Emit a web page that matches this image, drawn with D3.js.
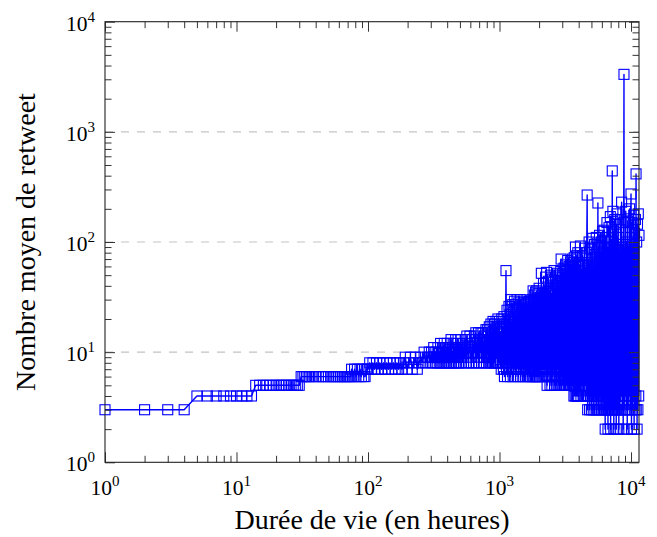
<!DOCTYPE html>
<html><head><meta charset="utf-8">
<script src="https://cdn.jsdelivr.net/npm/d3@7"></script>
<style>body{margin:0;background:#fff}svg{display:block}</style>
</head><body>
<svg id="c" width="657" height="537"></svg>
<script>
// Data: [lifetime in hours, mean retweet count]
const ptsShort = [[1,3],[2,3],[3,3],[4,3],[5,4],[6,4],[7,4],[8,4],[9,4],[10,4],[11,4],[12,4],[13,4],
 [14,5],[15,5],[16,5],[17,5],[18,5],[19,5],[20,5],[21,5],[22,5],[23,5],[24,5],[25,5],[26,5],[27,5],[28,5],[29,5],[30,5]];
const ptsDay = [[31,6],[32,6],[33,6],[34,6],[35,6],[36,6],[38,6],[40,6],[42,6],[44,6],[46,6],[48,6],[50,6],[52,6],
 [54,6],[56,6],[58,6],[60,6],[62,6],[64,6],[66,6],[68,6],[70,6],[72,6],[74,6],[75,7],[77,6],[79,7],[81,6],[83,7],
 [85,6],[87,7],[89,6],[91,7],[93,6],[95,6],[97,7],[99,7]];
const ptsWeek = [[100,7],[103,8],[106,7],[109,8],[112,7],[116,8],[119,7],[123,8],[127,7],[131,8],[135,7],[139,8],
 [143,7],[147,8],[152,7],[156,8],[161,7],[166,8],[171,7],[176,8],[181,7],[187,8],[192,9],[198,7],[204,8],[210,9],
 [217,7],[223,8],[230,9],[237,7],[244,8],[252,9],[259,8],[267,10],[275,8],[283,9],[292,10]];
const ptsMonth = [
 [300,8],[304,10],[308,9],[312,8],[316,11],[320,9],[324,8],[328,10],[332,9],[336,8],
 [340,11],[344,9],[348,8],[352,10],[356,12],[360,8],[364,9],[368,11],[372,8],[376,10],
 [380,12],[384,8],[388,9],[392,11],[396,8],[400,12],[404,9],[408,8],[412,11],[416,10],
 [420,8],[424,12],[428,13],[432,8],[436,10],[440,9],[444,12],[448,8],[452,11],[456,9],
 [460,8],[464,13],[468,10],[472,8],[476,12],[480,9],[484,13],[488,8],[492,11],[496,10],
 [500,8],[508,13],[516,9],[524,12],[532,8],[540,11],[548,13],[556,8],[564,14],[572,10],
 [580,8],[588,12],[596,14],[604,9],[612,8],[620,13],[628,11],[636,8],[644,14],[652,10],
 [660,15],[668,8],[676,12],[684,9],[692,15],[700,8],[708,13],[716,10],[724,15],[732,8],
 [740,12],[748,15],[756,9],[764,8],[772,14],[780,11],[788,16],[796,8],[804,13],[812,16],
 [820,9],[828,8],[836,17],[844,12],[852,8],[860,18],[868,10],[876,15],[884,8],[892,19],
 [900,11],[908,8],[916,18],[924,13],[932,8],[940,19],[948,10],[956,17],[964,8],[972,20],
 [980,12],[988,8]];
const ptsQuarter = [
 [1000,19],[1010,8],[1020,15],[1030,7],[1040,20],[1050,8],[1060,17],[1070,7],[1080,21],[1090,6],
 [1100,18],[1110,8],[1120,55],[1130,7],[1140,24],[1150,6],[1160,20],[1170,7],[1180,26],[1190,8],
 [1200,22],[1210,6],[1220,30],[1230,7],[1240,19],[1250,8],[1260,27],[1270,6],[1280,23],[1290,7],
 [1300,29],[1310,8],[1320,21],[1330,6],[1340,25],[1350,7],[1360,30],[1370,8],[1380,20],[1390,6],
 [1400,28],[1410,7],[1420,24],[1430,8],[1440,30],[1450,6],[1460,22],[1470,7],[1480,27],[1490,8],
 [1500,25],[1510,6],[1520,29],[1530,7],[1540,21],[1550,8],[1560,28],[1570,6],[1580,24],[1590,7],
 [1600,27],[1610,8],[1620,22],[1630,6],[1640,28],[1650,7],[1660,25],[1670,8],[1680,29],[1690,6],
 [1700,23],[1710,7],[1720,28],[1730,6],[1740,26],[1750,8],[1760,30],[1770,7],[1780,24],[1790,6],
 [1800,36],[1810,7],[1820,27],[1830,6],[1840,33],[1850,8],[1860,29],[1870,6],[1880,35],[1890,7],
 [1900,28],[1910,6],[1920,36],[1930,7],[1940,31],[1950,6],[1960,34],[1970,8],[1980,30],[1990,6]];
const ptsHalfYear = [
 [2000,38],[2020,6],[2040,30],[2060,7],[2080,52],[2100,6],[2120,34],[2140,7],[2160,42],[2180,6],
 [2200,32],[2220,7],[2240,48],[2260,6],[2280,53],[2300,5],[2320,35],[2340,6],[2360,44],[2380,7],
 [2400,36],[2420,5],[2440,50],[2460,6],[2480,34],[2500,5],[2520,46],[2540,6],[2560,38],[2580,7],
 [2600,55],[2620,5],[2640,36],[2660,6],[2680,48],[2700,5],[2720,40],[2740,6],[2760,52],[2780,7],
 [2800,42],[2820,5],[2840,50],[2860,6],[2880,38],[2900,5],[2920,54],[2940,70],[2960,6],[2980,44],
 [3000,5],[3020,52],[3040,6],[3060,40],[3080,5],[3100,58],[3120,6],[3140,45],[3160,5],[3180,62],
 [3200,6],[3220,44],[3240,5],[3260,56],[3280,6],[3300,68],[3320,5],[3340,48],[3360,6],[3380,60],
 [3400,5],[3420,46],[3440,6],[3460,66],[3480,5],[3500,50],[3520,6],[3540,63],[3560,5],[3580,70],
 [3600,6],[3620,50],[3640,5],[3660,65],[3680,4],[3700,72],[3720,5],[3740,52],[3760,4],[3780,90],
 [3800,5],[3820,56],[3840,4],[3860,75],[3880,5],[3900,60],[3920,4],[3940,80],[3960,5],[3980,62]];
const ptsYear = [
 [4000,4],[4040,60],[4080,5],[4120,92],[4160,4],[4200,55],[4240,5],[4280,75],[4320,4],[4360,62],
 [4400,4],[4440,88],[4480,5],[4520,58],[4560,4],[4600,80],[4640,267],[4680,3],[4720,65],[4760,4],
 [4800,100],[4840,3],[4880,62],[4920,4],[4960,85],[5000,3],[5040,70],[5080,4],[5120,108],[5160,3],
 [5200,60],[5240,4],[5280,95],[5320,3],[5360,72],[5400,4],[5440,110],[5480,3],[5520,66],[5560,4],
 [5600,226],[5640,3],[5680,90],[5720,4],[5760,115],[5800,3],[5840,70],[5880,4],[5920,100],[5960,3],
 [6000,78],[6040,4],[6080,125],[6120,3],[6160,72],[6200,4],[6240,128],[6280,3],[6320,88],[6360,2],
 [6400,110],[6440,3],[6480,75],[6520,4],[6560,150],[6600,3],[6640,90],[6680,2],[6720,70],[6760,3],
 [6800,135],[6840,4],[6880,85],[6920,3],[6960,170],[7000,2],[7040,100],[7080,3],[7120,78],[7160,4],
 [7200,442],[7240,3],[7280,190],[7320,4],[7360,125],[7400,2],[7440,90],[7480,3],[7520,160],[7560,4],
 [7600,80],[7640,3],[7680,145],[7720,2],[7760,95],[7800,3],[7840,180],[7880,4],[7920,85],[7960,3]];
const ptsLong = [
 [8000,110],[8080,2],[8160,80],[8240,3],[8320,160],[8400,4],[8480,230],[8560,3],[8640,95],[8720,2],
 [8800,150],[8840,3326],[8880,3],[8960,85],[9040,4],[9120,190],[9200,3],[9280,100],[9360,2],[9440,155],
 [9520,3],[9600,90],[9680,4],[9760,200],[9840,3],[9920,110],[10000,273],[10080,2],[10160,150],[10240,3],
 [10320,95],[10400,4],[10480,175],[10560,2],[10640,120],[10720,3],[10800,160],[10880,4],[10920,415],[10960,3],
 [11040,100],[11120,2],[11200,145],[11280,3],[11360,180],[11440,4],[11500,115]];

const xDomain = [1, 11500];
const yDomain = [1, 10000];
const xMajorTicks = [1, 10, 100, 1000, 10000];
const yMajorTicks = [1, 10, 100, 1000, 10000];
const gridTicks = [10, 100, 1000];
const xTitle = "Durée de vie (en heures)";
const yTitle = "Nombre moyen de retweet";

const data = [].concat(ptsShort, ptsDay, ptsWeek, ptsMonth, ptsQuarter, ptsHalfYear, ptsYear, ptsLong);

const L = 105, R = 639, T = 21.7, B = 462.3;
const x = d3.scaleLog().domain(xDomain).range([L, R]);
const y = d3.scaleLog().domain(yDomain).range([B, T]);
const svg = d3.select('#c');
const FONT = '"Liberation Serif","Times New Roman",serif';

function minors(dom) {
  const out = [];
  for (let k = 0; k < 5; k++) for (let m = 2; m <= 9; m++) {
    const v = m * Math.pow(10, k);
    if (v >= dom[0] && v <= dom[1]) out.push(v);
  }
  return out;
}
const xMinor = minors(xDomain), yMinor = minors(yDomain);

// grid
svg.append('g').selectAll('line').data(gridTicks).join('line')
  .attr('x1', L).attr('x2', R).attr('y1', d => y(d)).attr('y2', d => y(d))
  .attr('stroke', '#c4c4c4').attr('stroke-width', 1.1).attr('stroke-dasharray', '8,8');

// data
const line = d3.line().x(d => x(d[0])).y(d => y(d[1]));
svg.append('path').datum(data).attr('d', line)
  .attr('fill', 'none').attr('stroke', '#0000ff').attr('stroke-width', 1.4).attr('stroke-linejoin', 'round');
const S = 10;
svg.append('g').selectAll('rect').data(data).join('rect')
  .attr('x', d => x(d[0]) - S / 2).attr('y', d => y(d[1]) - S / 2)
  .attr('width', S).attr('height', S)
  .attr('fill', 'none').attr('stroke', '#0000ff').attr('stroke-width', 1.1);

// axes (ticks inward on all four sides)
function styleAxis(g) {
  g.select('.domain').remove();
  g.selectAll('.tick line').attr('stroke', '#333').attr('stroke-width', 1);
  g.selectAll('.tick text').remove();
}
const MAJ = 10, MIN = 6.5;
[[d3.axisBottom, B], [d3.axisTop, T]].forEach(([ax, pos]) => {
  svg.append('g').attr('transform', `translate(0,${pos})`)
    .call(ax(x).tickValues(xMajorTicks).tickSize(-MAJ)).call(styleAxis);
  svg.append('g').attr('transform', `translate(0,${pos})`)
    .call(ax(x).tickValues(xMinor).tickSize(-MIN)).call(styleAxis);
});
[[d3.axisLeft, L], [d3.axisRight, R]].forEach(([ax, pos]) => {
  svg.append('g').attr('transform', `translate(${pos},0)`)
    .call(ax(y).tickValues(yMajorTicks).tickSize(-MAJ)).call(styleAxis);
  svg.append('g').attr('transform', `translate(${pos},0)`)
    .call(ax(y).tickValues(yMinor).tickSize(-MIN)).call(styleAxis);
});
svg.append('rect').attr('x', L).attr('y', T).attr('width', R - L).attr('height', B - T)
  .attr('fill', 'none').attr('stroke', '#222').attr('stroke-width', 1.1);

// tick labels with superscript exponents
const TF = 21.5;
function powLabel(sel, v) {
  const e = Math.round(Math.log10(v));
  sel.append('tspan').text('10');
  sel.append('tspan').attr('font-size', TF * 0.7).attr('dy', -TF * 0.42).text(e);
}
xMajorTicks.forEach(v => {
  const t = svg.append('text').attr('x', x(v)).attr('y', 495)
    .attr('text-anchor', 'middle').attr('font-family', FONT).attr('font-size', TF).attr('fill', '#000');
  powLabel(t, v);
});
yMajorTicks.forEach(v => {
  const t = svg.append('text').attr('x', 95).attr('y', y(v) + 9)
    .attr('text-anchor', 'end').attr('font-family', FONT).attr('font-size', TF).attr('fill', '#000');
  powLabel(t, v);
});

// axis titles
svg.append('text').attr('x', (L + R) / 2).attr('y', 529).attr('text-anchor', 'middle')
  .attr('font-family', FONT).attr('font-size', 28).attr('fill', '#000').text(xTitle);
svg.append('text').attr('transform', `translate(34.5,${(T + B) / 2}) rotate(-90)`).attr('text-anchor', 'middle')
  .attr('font-family', FONT).attr('font-size', 28).attr('fill', '#000').text(yTitle);
</script>
</body></html>
